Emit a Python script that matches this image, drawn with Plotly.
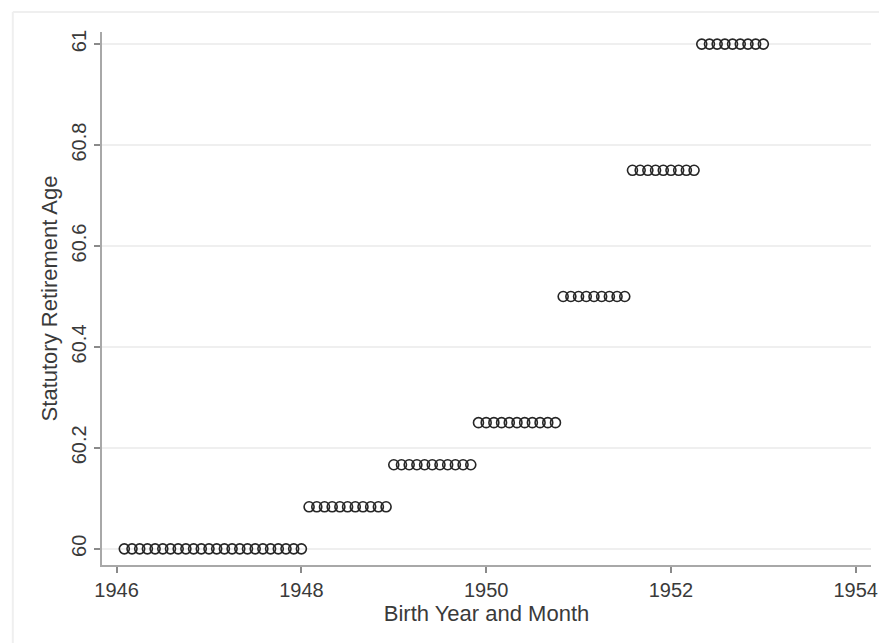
import plotly.graph_objects as go

# Birth cohorts (year, first month, last month) and statutory retirement age
group_start = [(1946, 1), (1948, 1), (1948, 12), (1949, 11), (1950, 10), (1951, 7), (1952, 4)]
group_end = [(1947, 12), (1948, 11), (1949, 10), (1950, 9), (1951, 6), (1952, 3), (1952, 12)]
group_age = [60.0, 60 + 1/12, 60 + 2/12, 60 + 3/12, 60.5, 60.75, 61.0]

x_ticks = [1946, 1948, 1950, 1952, 1954]
y_ticks = [60, 60.2, 60.4, 60.6, 60.8, 61]
y_ticklabels = ["60", "60.2", "60.4", "60.6", "60.8", "61"]

xs, ys = [], []
for (sy, sm), (ey, em), age in zip(group_start, group_end, group_age):
    y, m = sy, sm
    while (y, m) <= (ey, em):
        xs.append(y + m / 12)
        ys.append(age)
        m += 1
        if m > 12:
            m = 1
            y += 1

fig = go.Figure()
fig.add_trace(go.Scatter(
    x=xs, y=ys, mode="markers",
    marker=dict(symbol="circle-open", size=10, color="#262626", line=dict(width=1.6)),
    showlegend=False,
))

axis_font = dict(family="Liberation Sans, Arial, sans-serif", size=20, color="#3a3a3a")
title_font = dict(family="Liberation Sans, Arial, sans-serif", size=22, color="#3a3a3a")

# page body adds an 8px margin; compensate so the plot lands where the reference has it
fig.update_layout(
    width=879, height=635,
    margin=dict(l=94, r=9, t=24, b=78),
    paper_bgcolor="white", plot_bgcolor="white",
    xaxis=dict(
        range=[1945.842, 1954.165], tickvals=x_ticks, ticktext=[str(v) for v in x_ticks],
        showgrid=False, zeroline=False,
        showline=True, linecolor="#a8a8a8", linewidth=2,
        ticks="outside", ticklen=6, tickcolor="#8a8a8a", tickwidth=1.5,
        tickfont=axis_font,
        title=dict(text="Birth Year and Month", font=title_font, standoff=4),
    ),
    yaxis=dict(
        range=[59.968, 61.024], tickvals=y_ticks, ticktext=y_ticklabels,
        tickangle=-90,
        showgrid=True, gridcolor="#efefef", gridwidth=1.5, zeroline=False,
        showline=True, linecolor="#a8a8a8", linewidth=2,
        ticks="outside", ticklen=6, tickcolor="#8a8a8a", tickwidth=1.5,
        tickfont=axis_font,
        title=dict(text="Statutory Retirement Age", font=title_font, standoff=4),
    ),
    shapes=[
        dict(type="line", xref="paper", yref="paper", x0=-0.116, x1=1.02, y0=1.0375, y1=1.0375,
             line=dict(color="#efefef", width=2)),
        dict(type="line", xref="paper", yref="paper", x0=-0.116, x1=-0.116, y0=1.0375, y1=-0.2,
             line=dict(color="#efefef", width=2)),
    ],
)

fig.write_html("out.html")
